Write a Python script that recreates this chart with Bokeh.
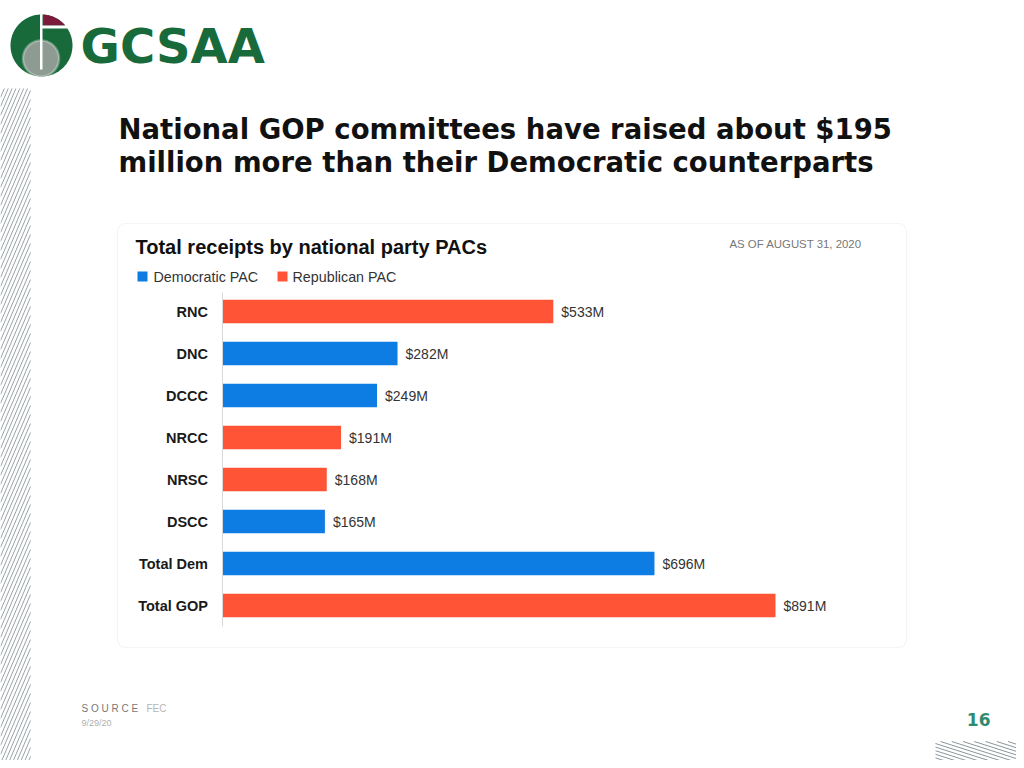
import numpy as np
from bokeh.plotting import figure
from bokeh.models import (ColumnDataSource, Range1d, Label, BoxAnnotation,
                          PolyAnnotation, FixedTicker, LinearAxis)
from bokeh.core.properties import value
from bokeh.embed import file_html
from bokeh.resources import INLINE

# ---------------- data ----------------
committees = ["RNC", "DNC", "DCCC", "NRCC", "NRSC", "DSCC", "Total Dem", "Total GOP"]
receipts = [533, 282, 249, 191, 168, 165, 696, 891]  # $ millions
party = ["Republican PAC", "Democratic PAC", "Democratic PAC", "Republican PAC",
         "Republican PAC", "Democratic PAC", "Democratic PAC", "Republican PAC"]
parties = ["Democratic PAC", "Republican PAC"]
party_colors = ["#0e7de3", "#ff5436"]

title_lines = ["National GOP committees have raised about $195",
               "million more than their Democratic counterparts"]
chart_title = "Total receipts by national party PACs"
as_of = "AS OF AUGUST 31, 2020"

FONT = "Liberation Sans"
HEAVY = "DejaVu Sans"
W, H = 1016, 760

# chart placement on the slide (pixels)
X0, XSCALE_PX, XSCALE_VAL = 222, 553, 891     # value 0 at x=222, 891 spans 553 px
ROW0, ROWSTEP = 311, 42                        # first row centre, row pitch

n = len(committees)
pos = list(range(n))  # row index of each committee (RNC at top)

# whole canvas is the frame; default ranges are slide pixels (y downwards)
p = figure(width=W, height=H, output_backend="svg", toolbar_location=None,
           x_range=Range1d(0, W), y_range=Range1d(H, 0),
           x_axis_type=None, y_axis_type=None,
           min_border=0, min_border_left=0, min_border_right=0,
           min_border_top=0, min_border_bottom=0)
p.outline_line_color = None
p.background_fill_color = "white"
p.border_fill_color = "white"
p.grid.visible = False

k = XSCALE_PX / XSCALE_VAL
p.extra_x_ranges = {"val": Range1d(-X0 / k, (W - X0) / k)}
p.extra_y_ranges = {"row": Range1d((H - ROW0) / ROWSTEP, -ROW0 / ROWSTEP)}

# ---------------- slide decorations (hatching) ----------------
# left strip: steep "/" lines in x 0..30, y 88..H
dx, dy = 30.0, 70.0
y0s = np.arange(88, H + dy, 9.0)
x_a = np.clip((y0s - H) / dy * dx, 0, dx)
y_a = y0s - x_a * dy / dx
x_b = np.clip((y0s - 88) / dy * dx, 0, dx)
y_b = y0s - x_b * dy / dx
p.segment(x0=x_a, y0=y_a, x1=x_b, y1=y_b, line_color="#9aa4aa", line_width=1)

# bottom right: shallow "\" lines in x 935..W, y 741..H
bx0, bx1, by0 = 935, 1030, 741
sl = 0.32
c = np.arange(by0 - sl * (bx1 - bx0), H + 1, 3.6)   # y at x=bx0
xs0 = np.clip(bx0 + (by0 - c) / sl, bx0, bx1)
ys0 = c + (xs0 - bx0) * sl
xs1 = np.clip(bx0 + (H - c) / sl, bx0, bx1)
ys1 = c + (xs1 - bx0) * sl
p.segment(x0=xs0, y0=ys0, x1=xs1, y1=ys1, line_color="#7f898e", line_width=0.9)

# ---------------- chart ----------------
yax = LinearAxis(y_range_name="row", fixed_location=X0 - 0.5,
                 ticker=FixedTicker(ticks=pos),
                 major_label_overrides={i: c for i, c in zip(pos, committees)},
                 bounds=(-0.45, n - 0.5))
yax.minor_tick_line_color = None
yax.axis_line_color = "#d8d8d8"
yax.axis_line_width = 1
yax.major_tick_line_color = None
yax.major_tick_in = 0
yax.major_tick_out = 0
yax.major_label_standoff = 14
yax.major_label_text_font = FONT
yax.major_label_text_font_style = "bold"
yax.major_label_text_font_size = "14.5px"
yax.major_label_text_color = "#1a1a1a"
p.add_layout(yax, "left")

for pname, col in zip(parties, party_colors):
    idx = [i for i, pp in enumerate(party) if pp == pname]
    src = ColumnDataSource(dict(
        y=[pos[i] for i in idx],
        val=[receipts[i] for i in idx],
        lab=[f"${receipts[i]}M" for i in idx],
    ))
    p.hbar(y="y", left=0, right="val", height=0.56, fill_color=col,
           line_color=None, source=src, x_range_name="val", y_range_name="row")
    p.text(x="val", y="y", text="lab", x_offset=8, text_baseline="middle",
           text_align="left", text_font=value(FONT), text_font_size="14px",
           text_color="#333333", source=src, x_range_name="val", y_range_name="row")


def label(text, x, y, size, color, bold=False, align="left", font=FONT):
    p.add_layout(Label(x=x, y=y, text=text, text_font=font, text_font_size=f"{size}px",
                       text_color=color, text_font_style="bold" if bold else "normal",
                       text_align=align, text_baseline="alphabetic"))


def box(l, r, t, b, **kw):
    kw.setdefault("fill_color", None)
    kw.setdefault("line_color", None)
    p.add_layout(BoxAnnotation(left=l, right=r, top=t, bottom=b, **kw))


def poly(xs, ys, **kw):
    p.add_layout(PolyAnnotation(xs=list(xs), ys=list(ys), **kw))


# logo
GREEN = "#196a3b"
t = np.linspace(0, 2 * np.pi, 90)
poly(41 + 31 * np.cos(t), 45 + 31 * np.sin(t), fill_color=GREEN, fill_alpha=1, line_color=None)
ta = np.linspace(-np.arccos(2 / 31), -np.arcsin(20 / 31), 30)
poly([43] + list(41 + 31 * np.cos(ta)) + [64.7], [25] + list(45 + 31 * np.sin(ta)) + [25],
     fill_color="#7c1a3b", fill_alpha=1, line_color=None)
box(41, 67, 25, 28, fill_color="white", fill_alpha=1)
tg = np.linspace(0, 2 * np.pi, 70)
poly(40.5 + 18 * np.cos(tg), 58 + 18 * np.sin(tg),
     fill_color="#8e9b92", fill_alpha=1, line_color="white", line_width=2.5)
box(39.5, 42, 12, 69, fill_color="white", fill_alpha=1)
label("GCSAA", 80, 45, 48, GREEN, bold=True, font=HEAVY)

# title
label(title_lines[0], 118, 128, 27.5, "#111111", bold=True, font=HEAVY)
label(title_lines[1], 118, 161, 27.5, "#111111", bold=True, font=HEAVY)

# card
box(117, 906, 223, 647, line_color="#d9d9d9", line_width=1.2, border_radius=8)
label(chart_title, 135, 246, 20, "#111111", bold=True)
label(as_of, 729, 243, 11.4, "#777777")

# legend
box(137, 147, 271, 281, fill_color=party_colors[0], fill_alpha=1)
label(parties[0], 153, 276, 14.3, "#333333")
box(277, 287, 271, 281, fill_color=party_colors[1], fill_alpha=1)
label(parties[1], 292, 276, 14.3, "#333333")

# footer
label("S O U R C E", 81, 708, 10, "#777777")
label("FEC", 146, 708, 10, "#b5b5b5")
label("9/29/20", 81, 722, 9, "#b0b0b0")
label("16", 990, 719, 17, "#2e8a70", bold=True, align="right", font=HEAVY)

open("out.html", "w").write(file_html(p, INLINE))
